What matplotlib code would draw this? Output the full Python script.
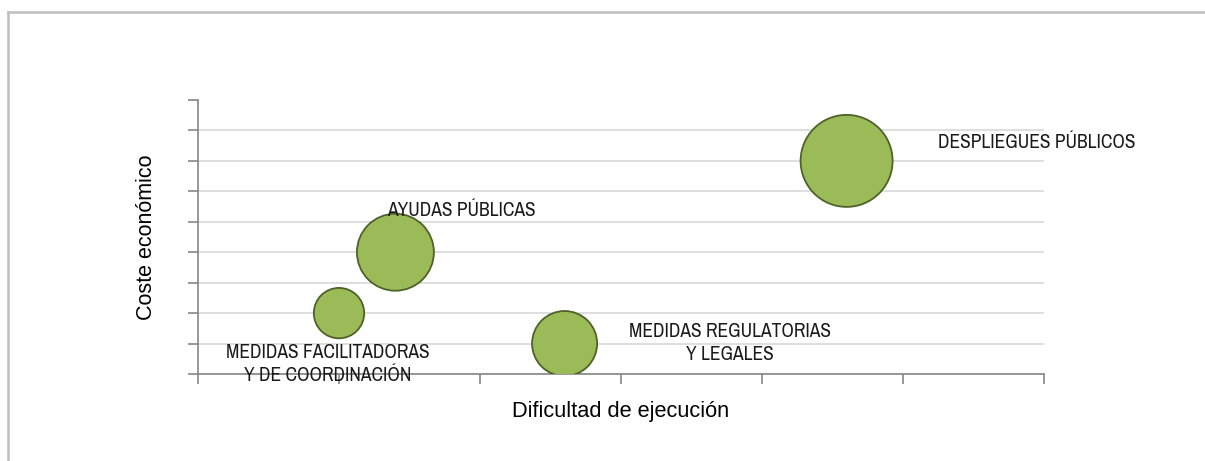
import matplotlib
matplotlib.use("Agg")
import matplotlib.pyplot as plt

# datos
labels = ["MEDIDAS FACILITADORAS\nY DE COORDINACIÓN", "AYUDAS PÚBLICAS",
          "MEDIDAS REGULATORIAS\nY LEGALES", "DESPLIEGUES PÚBLICOS"]
dificultad = [1.0, 1.4, 2.6, 4.6]
coste = [2, 4, 1, 7]
tamano = [3, 7, 5, 10]

NARROW = ["Liberation Sans Narrow", "Archivo Narrow", "DejaVu Sans"]

fig = plt.figure(figsize=(12.05, 4.61), dpi=100)
ax = fig.add_axes([198 / 1205, 1 - 374 / 461, (1044 - 198) / 1205, (374 - 100) / 461])

s = [t / 10 * 4388 for t in tamano]
ax.scatter(dificultad, coste, s=s, c="#9BBB59", edgecolors="#4F6228", linewidths=1.3, zorder=3)

offsets = [(-0.08, -1.68), (0.47, 1.38), (1.17, 0.03), (1.35, 0.6)]
for lab, x, y, (dx, dy) in zip(labels, dificultad, coste, offsets):
    ax.text(x + dx, y + dy, lab, ha="center", va="center", fontsize=14,
            family=NARROW, color="#1a1a1a", zorder=4, linespacing=1.27)

ax.set_xlim(0, 6)
ax.set_ylim(0, 9)
ax.set_xticks(range(7))
ax.set_yticks(range(10))
ax.set_xticklabels([])
ax.set_yticklabels([])
ax.yaxis.grid(True, color="#D9D9D9", linewidth=1.2)
ax.get_ygridlines()[-1].set_visible(False)
ax.set_axisbelow(True)
for sp in ["top", "right"]:
    ax.spines[sp].set_visible(False)
for sp in ["left", "bottom"]:
    ax.spines[sp].set_color("#868686")
    ax.spines[sp].set_linewidth(1.2)
ax.tick_params(direction="out", length=7, color="#868686", width=1.2)

ax.set_xlabel("Dificultad de ejecución", fontsize=15.7, family="Liberation Sans", labelpad=9)
ax.set_ylabel("Coste económico", fontsize=15.5, family="Liberation Sans", labelpad=19)

# marco
fig.add_artist(plt.Line2D([8 / 1205, 8 / 1205], [0, 1 - 12 / 461], color="#BFBFBF", lw=1.8))
fig.add_artist(plt.Line2D([8 / 1205, 1], [1 - 12 / 461, 1 - 12 / 461], color="#BFBFBF", lw=1.8))

fig.savefig("out.png", dpi=100)
